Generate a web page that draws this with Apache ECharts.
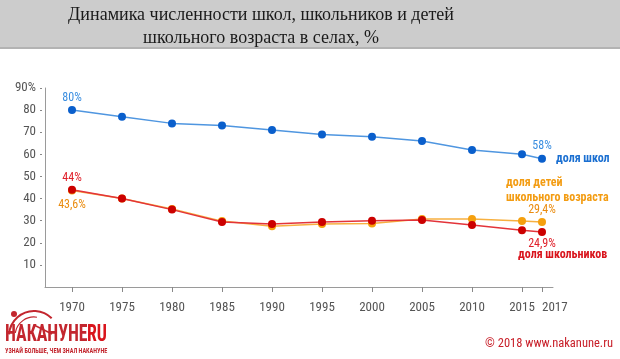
<!DOCTYPE html>
<html><head><meta charset="utf-8">
<script src="https://cdn.jsdelivr.net/npm/echarts@6/dist/echarts.min.js"></script>
<style>html,body{margin:0;padding:0;background:#fff}#c{width:620px;height:359px}</style>
</head><body><div id="c"></div>
<script>
var years = [1970,1975,1980,1985,1990,1995,2000,2005,2010,2015,2017];
var schools = [80,77,74,73,71,69,68,66,62,60,58];
var pupils = [44,40,35,29.4,28.5,29.4,30,30.3,28,25.7,24.9];
var children = [43.6,40,35.3,29.8,27.5,28.5,28.7,30.8,30.8,29.9,29.4];
var xTicks = [1970,1975,1980,1985,1990,1995,2000,2005,2010,2015,2017];
var yTicks = [10,20,30,40,50,60,70,80,90];

var NARROW = '"Liberation Sans Narrow","Arial Narrow","Roboto Condensed","Liberation Sans",sans-serif';
function fmt(v){ return String(v).replace('.', ',') + '%'; }
function build(vals, labels){
  return years.map(function(y,i){
    var d = {value:[y, vals[i]]};
    if (labels[i]) d.label = Object.assign({show:true, formatter:function(p){return fmt(p.value[1]);}}, labels[i]);
    return d;
  });
}
var lastTick = xTicks[xTicks.length-1];
var mainTicks = xTicks.slice(0, xTicks.length-1);
var chart = echarts.init(document.getElementById('c'), null, {renderer:'canvas'});
var lblBase = {fontFamily:NARROW, fontSize:12};
var LOGO = '#c3262e';
var xLabelStyle = {color:'#555', fontFamily:NARROW, fontSize:13, margin:14, hideOverlap:false, showMinLabel:true, showMaxLabel:true};
chart.setOption({
  animation:false,
  grid:{left:45, right:67, top:88, bottom:72, containLabel:false},
  graphic:[
    {type:'rect', shape:{x:0,y:0,width:620,height:47}, style:{fill:'#cccccc'}, z:0},
    {type:'rect', shape:{x:0,y:47,width:620,height:2}, style:{fill:'#b3b3b3'}, z:0},
    {type:'text', x:261, y:4, style:{text:'Динамика численности школ, школьников и детей\nшкольного возраста в селах, %', font:'18px "Liberation Serif","DejaVu Serif",serif', fill:'#1a1a1a', align:'center', lineHeight:23}},
    {type:'text', left:556, top:153, style:{text:'доля школ', font:'bold 12px '+NARROW, fill:'#1a6fd1'}},
    {type:'text', left:506, top:175, style:{text:'доля детей\nшкольного возраста', font:'bold 12px '+NARROW, fill:'#f39c12', lineHeight:15}},
    {type:'text', left:518, top:249, style:{text:'доля школьников', font:'bold 12px '+NARROW, fill:'#d9141c'}},
    {type:'arc', shape:{cx:34, cy:336, r:25, startAngle:Math.PI*1.02, endAngle:Math.PI*1.75}, style:{stroke:LOGO, lineWidth:2, fill:null}},
    {type:'arc', shape:{cx:34, cy:336, r:19, startAngle:Math.PI*1.05, endAngle:Math.PI*1.55}, style:{stroke:LOGO, lineWidth:1.2, fill:null}},
    {type:'circle', shape:{cx:14, cy:314, r:3}, style:{fill:LOGO}},
    {type:'line', shape:{x1:34, y1:325, x2:52, y2:334}, style:{stroke:LOGO, lineWidth:1.5}},
    {type:'text', x:5, y:323, scaleX:0.74, style:{text:'НАКАНУНЕ', font:'bold 24px '+NARROW, fill:LOGO}},
    {type:'text', x:87, y:323, scaleX:0.74, style:{text:'RU', font:'bold 24px '+NARROW, fill:'#d9141c'}},
    {type:'text', x:5, y:348, scaleX:0.88, style:{text:'УЗНАЙ БОЛЬШЕ, ЧЕМ ЗНАЛ НАКАНУНЕ', font:'bold 7px '+NARROW, fill:LOGO}},
    {type:'text', right:7, top:337, style:{text:'© 2018 www.nakanune.ru', font:'12.5px '+NARROW, fill:'#c8202a'}}
  ],
  xAxis:[{
    type:'value', min:1967.3, max:2018.1,
    axisLine:{show:true, lineStyle:{color:'#9a9a9a', width:1}},
    axisTick:{show:false},
    splitLine:{show:false},
    axisLabel:Object.assign({customValues:mainTicks, formatter:function(v){return String(v);}}, xLabelStyle)
  },{
    type:'value', min:1967.3, max:2018.1, position:'bottom', offset:4,
    axisLine:{show:false}, splitLine:{show:false},
    axisTick:{show:true, customValues:xTicks, length:5, inside:false, lineStyle:{color:'#888'}},
    axisLabel:{show:false}
  },{
    type:'value', min:1967.3, max:2018.1, position:'bottom', offset:0,
    axisLine:{show:false}, splitLine:{show:false}, axisTick:{show:false},
    axisLabel:Object.assign({customValues:[lastTick], align:'left', formatter:function(v){return String(v);}}, xLabelStyle)
  }],
  yAxis:[{
    type:'value', min:0, max:90, interval:10,
    axisLine:{show:true, lineStyle:{color:'#9a9a9a', width:1}},
    axisTick:{show:false}, splitLine:{show:false},
    axisLabel:{color:'#555', fontFamily:NARROW, fontSize:13, margin:9, formatter:function(v){ if(v===0) return ''; return v===90 ? '90%' : String(v);}}
  },{
    type:'value', min:0, max:90, position:'left', offset:3,
    axisLine:{show:false}, splitLine:{show:false},
    axisTick:{show:true, customValues:yTicks, length:2, lineStyle:{color:'#888'}},
    axisLabel:{show:false}
  }],
  series:[
    {type:'line', name:'доля школ', data:build(schools,{0:Object.assign({position:'top', distance:2, color:'#3a8ee0'},lblBase),10:Object.assign({position:'top', distance:3, color:'#3a8ee0'},lblBase)}),
      symbol:'circle', symbolSize:8, itemStyle:{color:'#0a5fcc'}, lineStyle:{color:'#4f96e0', width:1.5}, z:3},
    {type:'line', name:'доля детей школьного возраста', data:build(children,{0:Object.assign({position:'bottom', distance:4, color:'#ea8c10'},lblBase),10:Object.assign({position:'top', distance:2, color:'#ea8c10'},lblBase)}),
      symbol:'circle', symbolSize:8, itemStyle:{color:'#f5a00e'}, lineStyle:{color:'#f7b040', width:1.5}, z:3},
    {type:'line', name:'доля школьников', data:build(pupils,{0:Object.assign({position:'top', distance:2, color:'#e0202a'},lblBase),10:Object.assign({position:'bottom', distance:2, color:'#e0202a'},lblBase)}),
      symbol:'circle', symbolSize:8, itemStyle:{color:'#cc0000'}, lineStyle:{color:'#e3343a', width:1.5}, z:4}
  ]
});
</script></body></html>
